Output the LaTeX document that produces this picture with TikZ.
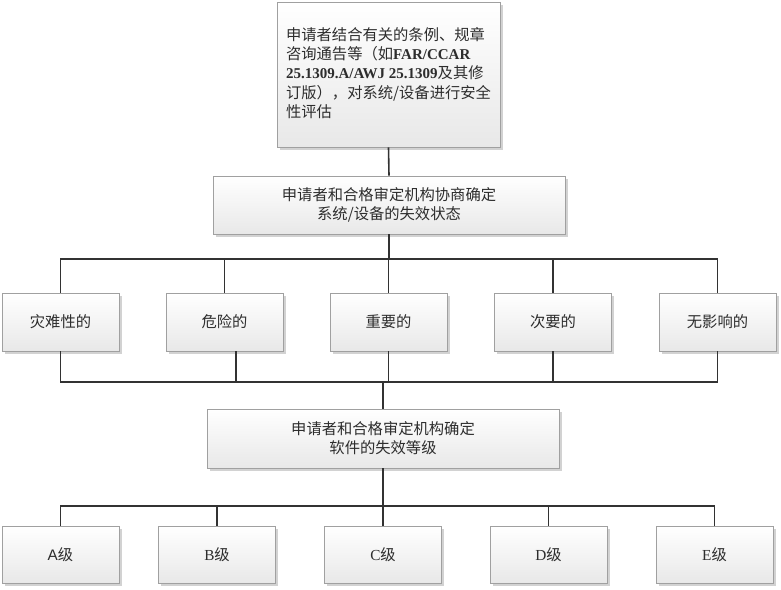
\documentclass[tikz,border=0pt]{standalone}
\usepackage{fontspec}
\setmainfont{Liberation Serif}
\newfontfamily\cjk{Noto Sans CJK SC}
\newfontfamily\lsans{Liberation Sans}
\usetikzlibrary{shadows}
\definecolor{boxline}{RGB}{160,160,160}
\definecolor{linkcol}{RGB}{50,50,50}
\definecolor{txtcol}{RGB}{45,45,45}
\tikzset{
  boxnode/.style={draw=boxline, line width=0.8pt, top color=white, bottom color=black!9,
    drop shadow={shadow xshift=2.5pt, shadow yshift=-2.5pt, fill=black!35, opacity=0.5},
    minimum width=117pt, minimum height=58pt, inner sep=0pt, text=txtcol,
    font=\fontsize{15.3}{19.2}\selectfont\cjk, align=center},
  link/.style={draw=linkcol, line width=1.6pt}
}
\begin{document}
\begin{tikzpicture}[x=1pt,y=-1pt]
\useasboundingbox (0,0) rectangle (781,589);
% top box
\node[boxnode, minimum width=223pt, minimum height=145pt, align=left] (top) at (388.5,74.5)
 {申请者结合有关的条例、规章\\
  咨询通告等（如{\rmfamily\bfseries\fontsize{15}{19.2}\selectfont FAR/CCAR}\\
  {\rmfamily\bfseries\fontsize{15}{19.2}\selectfont 25.1309.A/AWJ 25.1309}及其修\\
  订版），对系统/设备进行安全\\
  性评估\vspace{3pt}};
\node[boxnode, minimum width=352pt] (mid1) at (389,205)
 {申请者和合格审定机构协商确定\\系统/设备的失效状态};
% row of failure states
\node[boxnode] (r1) at (60.5,322) {灾难性的};
\node[boxnode] (r2) at (224.5,322) {危险的};
\node[boxnode] (r3) at (388.5,322) {重要的};
\node[boxnode] (r4) at (553,322) {次要的};
\node[boxnode] (r5) at (717.5,322) {无影响的};
\node[boxnode, minimum width=352pt, minimum height=59pt] (mid2) at (383,438.5)
 {申请者和合格审定机构确定\\软件的失效等级};
% levels
\node[boxnode, minimum height=57pt] (la) at (60.5,554.5) {{\lsans A}级};
\node[boxnode, minimum height=57pt] (lb) at (217,554.5) {{\rmfamily B}级};
\node[boxnode, minimum height=57pt] (lc) at (383,554.5) {{\rmfamily C}级};
\node[boxnode, minimum height=57pt] (ld) at (548.5,554.5) {{\rmfamily D}级};
\node[boxnode, minimum height=57pt] (le) at (714.5,554.5) {{\rmfamily E}级};
% bus coordinates
\coordinate (b1) at (0,259);
\coordinate (b2) at (0,382);
\coordinate (b3) at (0,506);
\coordinate (r2s) at (236,351);
% connectors
\draw[link] (top.south) -- (mid1.north);
\draw[link] (mid1.south) -- (mid1.south |- b1);
\draw[link] (r1.north) -- (r1.north |- b1) -- (r5.north |- b1) -- (r5.north);
\draw[link] (r2.north) -- (r2.north |- b1);
\draw[link] (r3.north) -- (r3.north |- b1);
\draw[link] (r4.north) -- (r4.north |- b1);
\draw[link] (r1.south) -- (r1.south |- b2) -- (r5.south |- b2) -- (r5.south);
\draw[link] (r2s) -- (r2s |- b2);
\draw[link] (r3.south) -- (r3.south |- b2);
\draw[link] (r4.south) -- (r4.south |- b2);
\draw[link] (mid2.north |- b2) -- (mid2.north);
\draw[link] (mid2.south) -- (mid2.south |- b3);
\draw[link] (la.north) -- (la.north |- b3) -- (le.north |- b3) -- (le.north);
\draw[link] (lb.north) -- (lb.north |- b3);
\draw[link] (lc.north) -- (lc.north |- b3);
\draw[link] (ld.north) -- (ld.north |- b3);
\end{tikzpicture}
\end{document}
